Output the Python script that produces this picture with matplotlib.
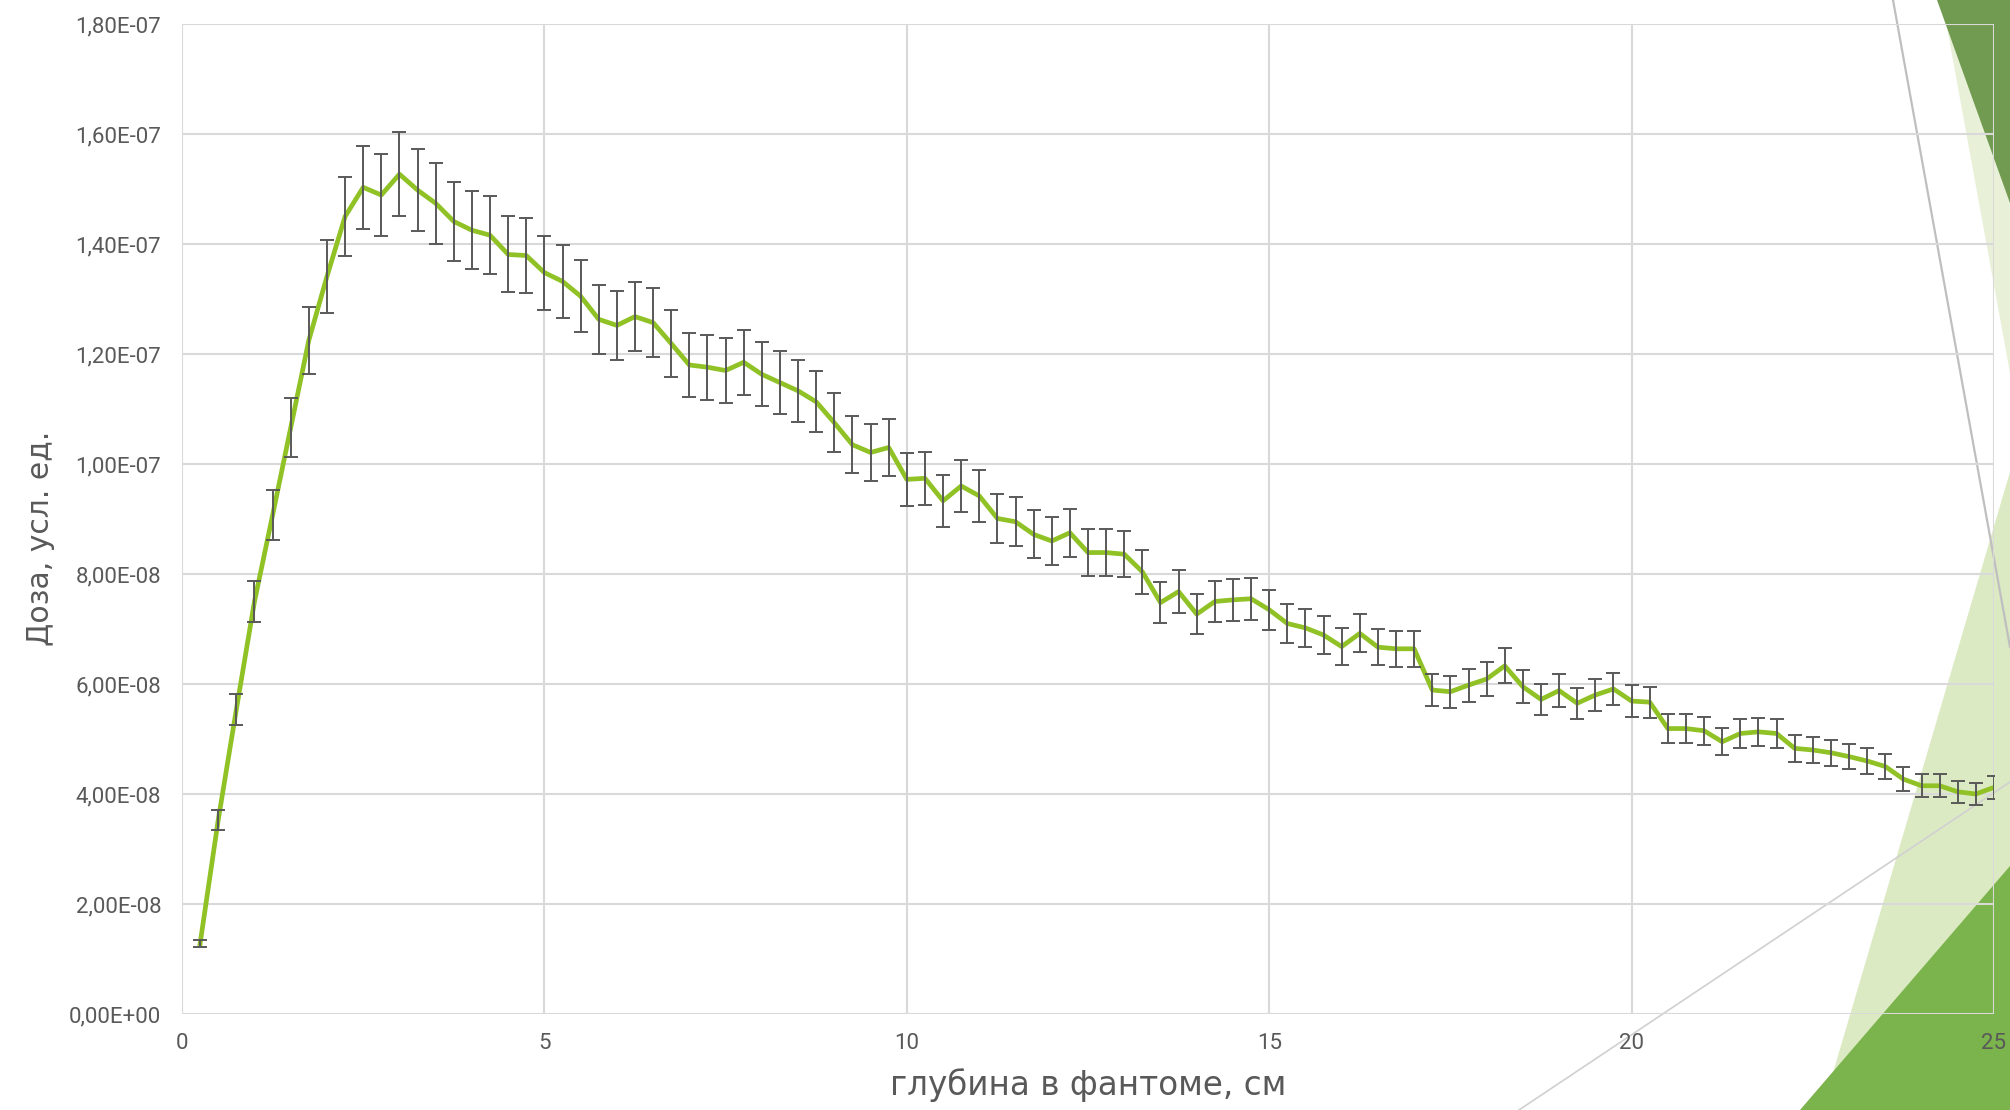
import numpy as np
import matplotlib
matplotlib.use("Agg")
import matplotlib.pyplot as plt
from matplotlib.patches import Polygon
from matplotlib.lines import Line2D
from matplotlib.ticker import FuncFormatter, MultipleLocator

# глубина, см
depth = [0.25, 0.5, 0.75, 1.0, 1.25, 1.5, 1.75, 2.0, 2.25, 2.5,
         2.75, 3.0, 3.25, 3.5, 3.75, 4.0, 4.25, 4.5, 4.75, 5.0,
         5.25, 5.5, 5.75, 6.0, 6.25, 6.5, 6.75, 7.0, 7.25, 7.5,
         7.75, 8.0, 8.25, 8.5, 8.75, 9.0, 9.25, 9.5, 9.75, 10.0,
         10.25, 10.5, 10.75, 11.0, 11.25, 11.5, 11.75, 12.0, 12.25, 12.5,
         12.75, 13.0, 13.25, 13.5, 13.75, 14.0, 14.25, 14.5, 14.75, 15.0,
         15.25, 15.5, 15.75, 16.0, 16.25, 16.5, 16.75, 17.0, 17.25, 17.5,
         17.75, 18.0, 18.25, 18.5, 18.75, 19.0, 19.25, 19.5, 19.75, 20.0,
         20.25, 20.5, 20.75, 21.0, 21.25, 21.5, 21.75, 22.0, 22.25, 22.5,
         22.75, 23.0, 23.25, 23.5, 23.75, 24.0, 24.25, 24.5, 24.75, 25.0]

# доза, единицы 1E-08
dose = [1.28, 3.53, 5.54, 7.50, 9.07, 10.66, 12.25, 13.41, 14.50, 15.03,
        14.89, 15.27, 14.98, 14.74, 14.41, 14.25, 14.16, 13.81, 13.79, 13.48,
        13.32, 13.05, 12.63, 12.52, 12.68, 12.57, 12.19, 11.80, 11.76, 11.70,
        11.85, 11.63, 11.48, 11.33, 11.13, 10.75, 10.35, 10.21, 10.30, 9.72,
        9.74, 9.33, 9.60, 9.42, 9.01, 8.95, 8.72, 8.60, 8.75, 8.39,
        8.39, 8.36, 8.04, 7.48, 7.68, 7.27, 7.50, 7.53, 7.55, 7.35,
        7.10, 7.02, 6.89, 6.68, 6.92, 6.67, 6.64, 6.64, 5.89, 5.86,
        5.98, 6.09, 6.33, 5.95, 5.72, 5.88, 5.65, 5.80, 5.91, 5.69,
        5.67, 5.19, 5.19, 5.15, 4.95, 5.10, 5.13, 5.10, 4.83, 4.80,
        4.75, 4.68, 4.60, 4.50, 4.27, 4.15, 4.15, 4.04, 4.00, 4.12]

ERR_PCT = 5  # погрешность, %

x = np.array(depth)
y = np.array(dose) * 1e-8
yerr = y * ERR_PCT / 100

W, H = 2010, 1110
fig = plt.figure(figsize=(W / 100, H / 100), dpi=100)
fig.patch.set_facecolor("white")


def px(pts):
    # pixel coords (origin top-left) -> figure fraction
    return [(a / W, 1 - b / H) for a, b in pts]


# theme shapes on the right edge
fig.add_artist(Polygon(px([(1942, 0), (2010, 0), (2010, 373)]),
                       closed=True, fc="#e8f0d8", ec="none", zorder=-6))
fig.add_artist(Polygon(px([(1937, 0), (2010, 0), (2010, 203)]),
                       closed=True, fc="#719b50", ec="none", zorder=-5))
fig.add_artist(Polygon(px([(2010, 472), (2010, 1110), (1822, 1110)]),
                       closed=True, fc="#dceac4", ec="none", zorder=-4))
fig.add_artist(Polygon(px([(2010, 866), (2010, 1110), (1800, 1110)]),
                       closed=True, fc="#7bb34c", ec="none", zorder=-3))
l1 = px([(1893, 0), (2010, 647)])
fig.add_artist(Line2D([l1[0][0], l1[1][0]], [l1[0][1], l1[1][1]],
                      color="#bfbfbf", lw=1.6, transform=fig.transFigure, zorder=-2))
l2 = px([(1519, 1110), (2010, 782)])
fig.add_artist(Line2D([l2[0][0], l2[1][0]], [l2[0][1], l2[1][1]],
                      color="#d0d0d0", lw=1.2, transform=fig.transFigure, zorder=-2))

ax = fig.add_axes([182 / W, 1 - 1014 / H, (1994 - 182) / W, (1014 - 24) / H])
ax.set_facecolor("none")

ax.plot(x, y, color="#90c226", lw=3.4, zorder=3)
ax.errorbar(x, y, yerr=yerr, fmt="none", ecolor="#595959", elinewidth=1.4,
            capsize=5, capthick=1.4, zorder=4)

ax.set_xlim(0, 25)
ax.set_ylim(0, 1.8e-7)
ax.xaxis.set_major_locator(MultipleLocator(5))
ax.yaxis.set_major_locator(MultipleLocator(2e-8))
ax.yaxis.set_major_formatter(FuncFormatter(lambda v, p: f"{v:.2E}".replace(".", ",")))

ax.grid(True, color="#d9d9d9", lw=1.5, zorder=0)
ax.set_axisbelow(True)
for s in ax.spines.values():
    s.set_visible(False)
ax.tick_params(length=0, colors="#595959", labelsize=16, labelfontfamily="Roboto")
ax.tick_params(axis="x", pad=14)
ax.tick_params(axis="y", pad=15)

fig.canvas.draw()
ax.yaxis.get_gridlines()[0].set_visible(False)

ax.set_xlabel("глубина в фантоме, см", fontsize=23.5, color="#595959", labelpad=10)
ax.set_ylabel("Доза, усл. ед.", fontsize=21.5, color="#595959")
ax.yaxis.set_label_coords(-0.070, 0.48)

fig.savefig("out.png", dpi=100, facecolor="white")
